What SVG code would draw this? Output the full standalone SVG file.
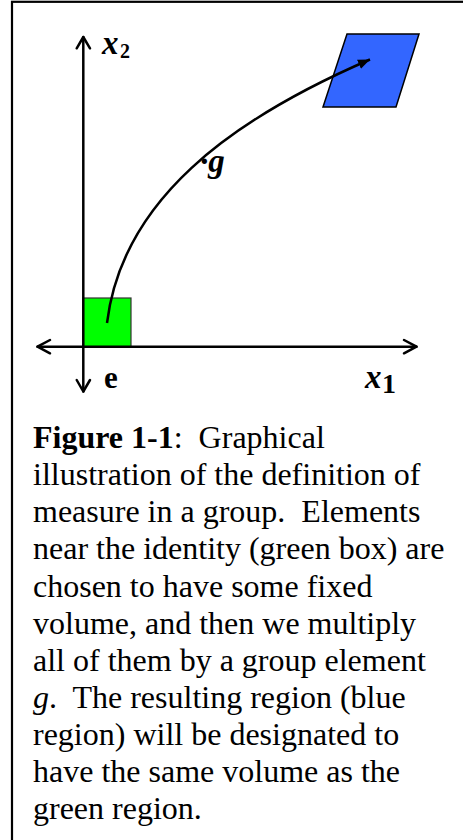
<svg xmlns="http://www.w3.org/2000/svg" width="463" height="840" viewBox="0 0 463 840">
<defs>
<style>
.ax{fill:none;stroke:#000;stroke-width:2.5;stroke-linecap:round;stroke-linejoin:round}
.lbl{font-family:"Liberation Serif","Times New Roman",serif;font-weight:bold;fill:#000}
.cap{font-family:"Liberation Serif","Times New Roman",serif;font-size:32px;fill:#000;white-space:pre}
</style>
<marker id="ah" markerUnits="userSpaceOnUse" markerWidth="14" markerHeight="12" refX="12" refY="5" orient="auto">
<path d="M0,0 L12,5 L0,10 Z" fill="#000"/>
</marker>
</defs>
<rect x="12" y="1.8" width="460" height="850" fill="#fff" stroke="#000" stroke-width="2.2"/>
<g id="green-box">
<rect x="83" y="298" width="48" height="49" fill="#00ff00" stroke="#333" stroke-width="1.2"/>
</g>
<g id="blue-region">
<polygon points="347,34 419,34 396,107 323,107" fill="#3366ff" stroke="#000" stroke-width="1.5"/>
</g>
<g id="axes">
<path class="ax" d="M83.3,37 L83.3,391.5"/>
<path class="ax" d="M76.7,48.3 L83.3,37 L90,48.3"/>
<path class="ax" d="M76.7,380 L83.3,391.5 L90,380"/>
<path class="ax" d="M37.5,346.7 L416.5,346.7"/>
<path class="ax" d="M50,340 L37.5,346.7 L50,353.3"/>
<path class="ax" d="M404,340 L416.5,346.7 L404,353.3"/>
</g>
<g id="connectors">
<path d="M107,323 C122,200 230,120 370,59.5" fill="none" stroke="#000" stroke-width="2.5" marker-end="url(#ah)"/>
</g>
<g id="labels">
<text class="lbl" x="102" y="54" font-size="33" font-style="italic">x</text>
<text class="lbl" x="120" y="57.5" font-size="20" font-weight="normal">2</text>
<text class="lbl" x="200" y="172" font-size="33" font-style="italic">·g</text>
<text class="lbl" x="104" y="388" font-size="31">e</text>
<text class="lbl" x="365" y="388" font-size="33" font-style="italic">x</text>
<text class="lbl" x="382" y="393" font-size="28" font-weight="normal">1</text>
</g>
<g id="caption" class="cap">
<text xml:space="preserve" x="33" y="448"><tspan font-weight="bold">Figure 1-1</tspan>:  Graphical</text>
<text x="33" y="485">illustration of the definition of</text>
<text xml:space="preserve" x="33" y="522">measure in a group.  Elements</text>
<text x="33" y="559">near the identity (green box) are</text>
<text x="33" y="597">chosen to have some fixed</text>
<text x="33" y="634">volume, and then we multiply</text>
<text x="33" y="671">all of them by a group element</text>
<text xml:space="preserve" x="33" y="708"><tspan font-style="italic">g</tspan>.  The resulting region (blue</text>
<text x="33" y="745">region) will be designated to</text>
<text x="33" y="782">have the same volume as the</text>
<text x="33" y="819">green region.</text>
</g>
</svg>
